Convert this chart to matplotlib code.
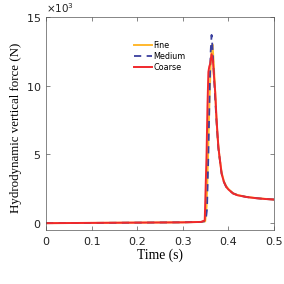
import numpy as np
import matplotlib.pyplot as plt
from matplotlib.ticker import ScalarFormatter

# time (s) and hydrodynamic vertical force (N) for three mesh sizes
t_fine = [0.0, 0.1, 0.2, 0.3, 0.34, 0.349, 0.352, 0.355, 0.358, 0.361, 0.363, 0.365, 0.367,
          0.37, 0.373, 0.376, 0.38, 0.385, 0.39, 0.395, 0.4, 0.41, 0.42, 0.44, 0.46, 0.48, 0.5]
f_fine = [0, 20, 40, 60, 90, 130, 1200, 4500, 8500, 11500, 12600, 13000, 12000,
          10200, 8000, 6300, 4900, 3700, 3050, 2700, 2480, 2180, 2050, 1910, 1830, 1770, 1720]

t_medium = [0.0, 0.1, 0.2, 0.3, 0.34, 0.35, 0.353, 0.356, 0.359, 0.361, 0.363, 0.365, 0.368,
            0.371, 0.374, 0.378, 0.385, 0.39, 0.395, 0.4, 0.41, 0.42, 0.44, 0.46, 0.48, 0.5]
f_medium = [0, 20, 40, 60, 90, 150, 1000, 5000, 10000, 12500, 13700, 12800, 10800,
            9000, 7300, 5400, 3600, 3000, 2650, 2450, 2170, 2040, 1900, 1820, 1760, 1720]

t_coarse = [0.0, 0.1, 0.2, 0.3, 0.34, 0.348, 0.352, 0.354, 0.356, 0.358, 0.36, 0.363, 0.366,
            0.368, 0.371, 0.374, 0.378, 0.385, 0.39, 0.395, 0.4, 0.41, 0.42, 0.44, 0.46, 0.48, 0.5]
f_coarse = [0, 20, 40, 60, 90, 200, 5000, 8500, 11000, 11400, 11600, 12300, 11800,
            10800, 9500, 7500, 5500, 3600, 3000, 2640, 2450, 2160, 2030, 1900, 1820, 1760, 1720]

fig = plt.figure(figsize=(2.84, 2.84), dpi=100)
ax = fig.add_axes([0.162, 0.19, 0.803, 0.75])

ax.plot(t_fine, f_fine, color="#ffb82e", lw=1.4, label="Fine")
ax.plot(t_medium, f_medium, color="#3a3f9e", lw=1.3, ls=(0, (4, 3)), label="Medium")
ax.plot(t_coarse, f_coarse, color="#f0282c", lw=1.4, label="Coarse")

ax.set_xlim(0, 0.5)
ax.set_ylim(-500, 15000)
ax.set_xticks([0, 0.1, 0.2, 0.3, 0.4, 0.5])
ax.set_xticklabels(["0", "0.1", "0.2", "0.3", "0.4", "0.5"])
ax.set_yticks([0, 5000, 10000, 15000])
fmt = ScalarFormatter(useMathText=True)
fmt.set_powerlimits((3, 3))
ax.yaxis.set_major_formatter(fmt)
ax.yaxis.get_offset_text().set_fontsize(7.5)
ax.yaxis.get_offset_text().set_color("#333333")

ax.tick_params(direction="in", length=3, width=0.5, labelsize=8, top=True, right=True,
               color="#555555", labelcolor="#222222")
ax.tick_params(axis="x", pad=5)
for s in ax.spines.values():
    s.set_linewidth(0.5)
    s.set_color("#555555")

ax.set_xlabel("Time (s)", family="Liberation Serif", fontsize=9.8, labelpad=1)
ax.set_ylabel("Hydrodynamic vertical force (N)", family="Liberation Serif", fontsize=9.3)
ax.yaxis.set_label_coords(-0.107, 0.479)

ax.legend(loc="upper left", bbox_to_anchor=(0.37, 0.906), frameon=False, fontsize=5.8,
          handlelength=2.2, handletextpad=0.2, labelspacing=0.25, borderpad=0)

fig.savefig("out.png", dpi=100)
